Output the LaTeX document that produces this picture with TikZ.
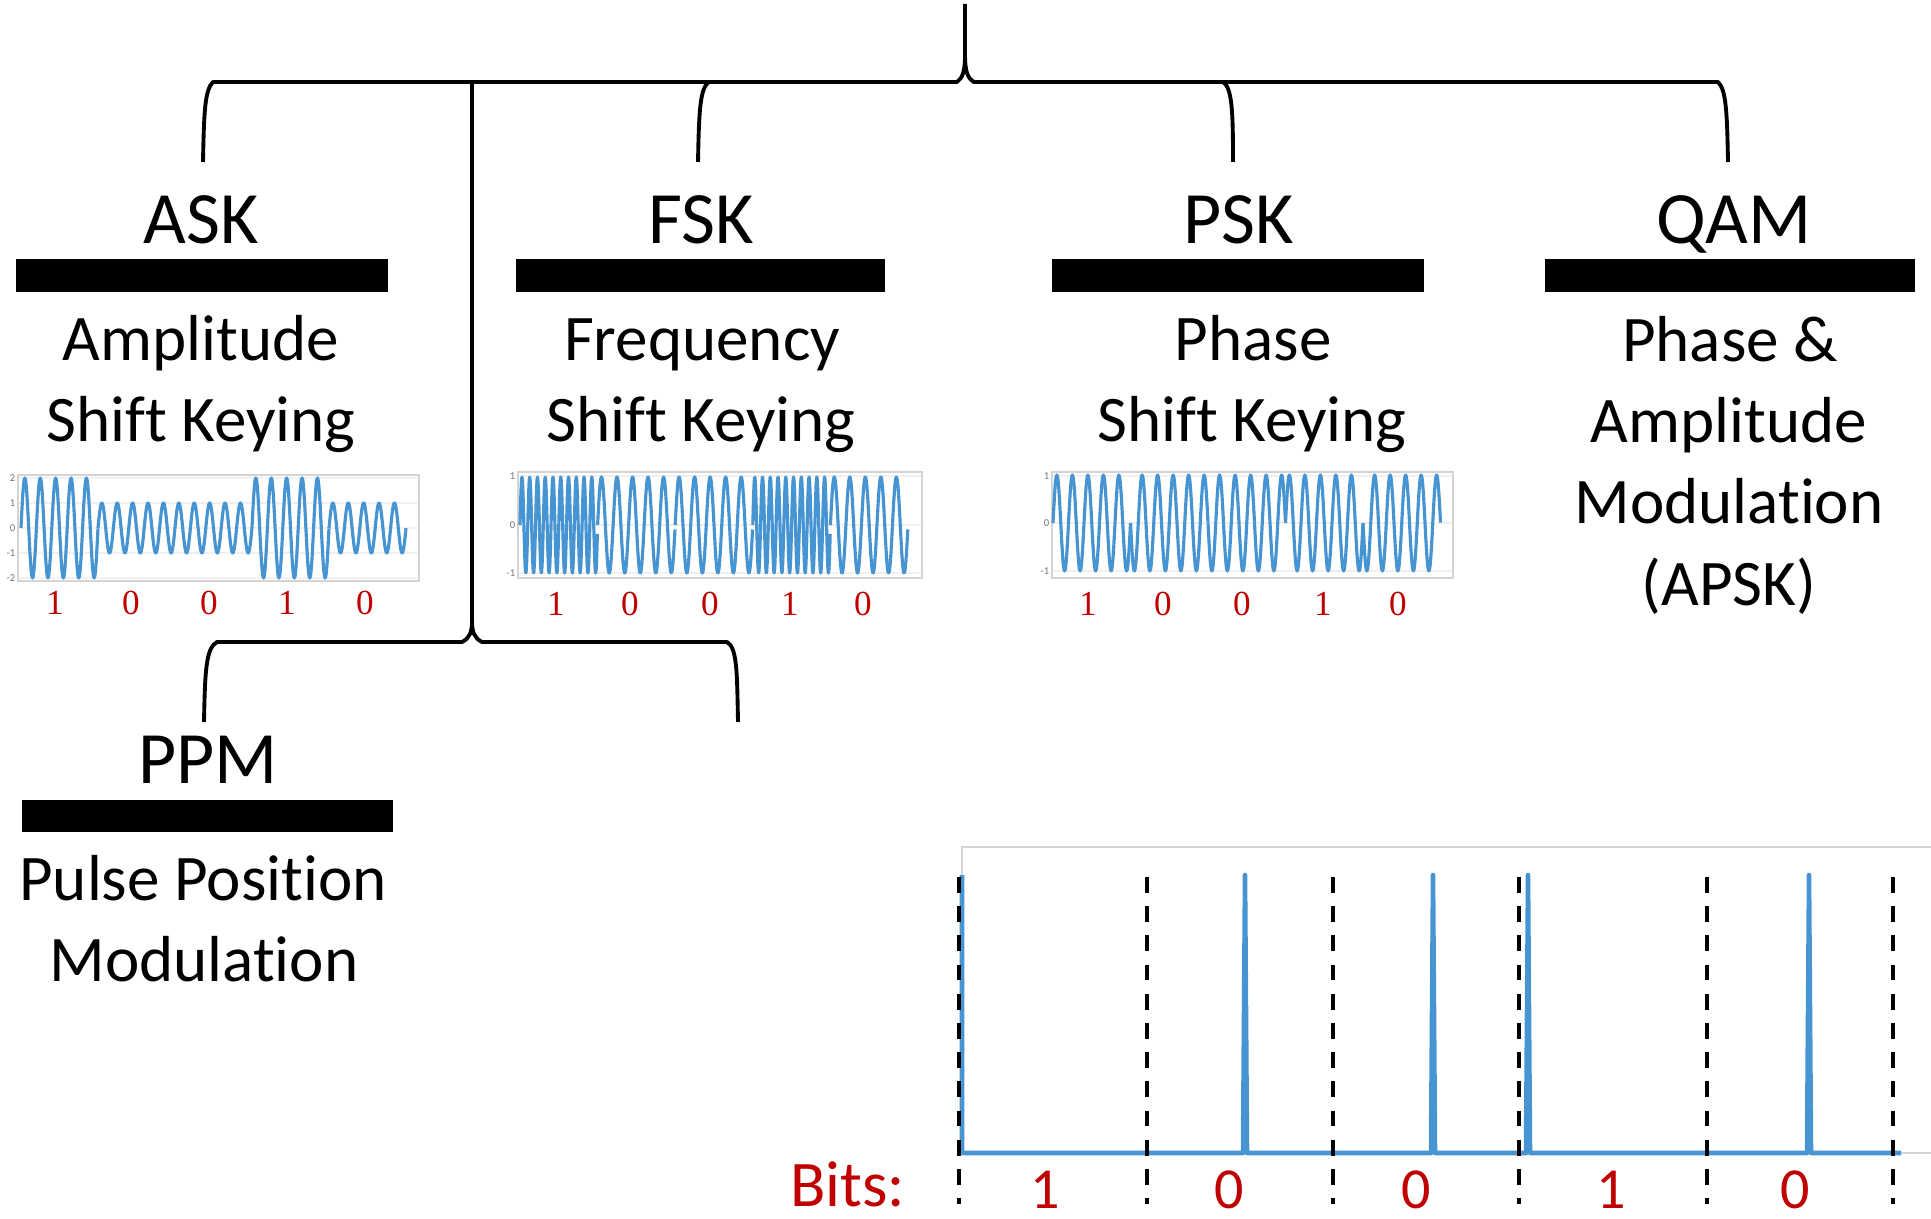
\documentclass[tikz,border=0pt]{standalone}
\usepackage{fontspec}
\setmainfont{Carlito}[Ligatures=CommonOff]
\newfontfamily\plotfont{Liberation Serif}
\definecolor{bitred}{RGB}{192,0,0}
\definecolor{wblue}{RGB}{70,148,210}
\begin{document}
\begin{tikzpicture}[x=0.01cm,y=-0.01cm,
  title/.style={font=\fontsize{21}{25}\selectfont, anchor=base, inner sep=0pt},
  body/.style={font=\fontsize{18.5}{22}\selectfont, anchor=base, inner sep=0pt},
  bar/.style={fill=black},
  brace/.style={draw=black, line width=1.1pt, line join=round},
  wave/.style={draw=wblue, line width=0.9pt, line join=round},
  pulse/.style={draw=wblue, line width=1.3pt, line join=round},
  frame/.style={draw=black!17, line width=0.5pt},
  gridl/.style={draw=black!6, line width=0.4pt},
  smallbit/.style={font=\plotfont\fontsize{10}{12}\selectfont, text=bitred, anchor=base, inner sep=0pt},
  bigbit/.style={font=\fontsize{16.5}{20}\selectfont, text=bitred, anchor=base, inner sep=0pt},
  bitslabel/.style={font=\fontsize{18.5}{22}\selectfont, text=bitred, anchor=base east, inner sep=0pt},
  tickl/.style={font=\fontsize{3}{3}\selectfont, text=black!55, anchor=east, inner sep=0.6pt},
  bitsep/.style={draw=black, line width=1.2pt, dash pattern=on 4.5pt off 3.8pt}
]
\useasboundingbox (0,0) rectangle (1931,1219);

% ---------- top brace ----------
\coordinate (tip) at (965,4);
\coordinate (bA) at (203,162);
\coordinate (bF) at (698,162);
\coordinate (bP) at (1233,162);
\coordinate (bQ) at (1728,162);
\coordinate (stemtop) at (472,82);
\coordinate (ppmtip) at (472,620);
\coordinate (bPPM) at (204,722);
\coordinate (bR) at (738,722);
\draw[brace] (bA) .. controls (204,110) and (205,90) .. (213,82) -- (957,82)
   .. controls (963,78) and (965,70) .. (965,55) -- (tip);
\draw[brace] (965,55) .. controls (965,70) and (967,78) .. (974,82) -- (1718,82)
   .. controls (1726,90) and (1727,110) .. (bQ);
\draw[brace] (709,82) .. controls (700,88) and (699,110) .. (bF);
\draw[brace] (1223,82) .. controls (1232,88) and (1233,110) .. (bP);
\draw[brace] (stemtop) -- (ppmtip);
% ---------- PPM brace ----------
\draw[brace] (bPPM) .. controls (205,670) and (206,648) .. (217,642) -- (462,642)
   .. controls (470,638) and (472,632) .. (ppmtip);
\draw[brace] (ppmtip) .. controls (472,632) and (474,638) .. (482,642) -- (727,642)
   .. controls (737,648) and (737,670) .. (bR);

% ---------- titles, bars, descriptions ----------
\node[title] (ask) at (201,244) {ASK};
\fill[bar] (16,259) rectangle (388,292);
\node[body] (ask1) at (201,361) {Amplitude};
\node[body] (ask2) at (201,442) {Shift Keying};

\node[title] (fsk) at (701,244) {FSK};
\fill[bar] (516,259) rectangle (885,292);
\node[body] (fsk1) at (702,361) {Frequency};
\node[body] (fsk2) at (701,442) {Shift Keying};

\node[title] (psk) at (1239,244) {PSK};
\fill[bar] (1052,259) rectangle (1424,292);
\node[body] (psk1) at (1253,361) {Phase};
\node[body] (psk2) at (1252,442) {Shift Keying};

\node[title] (qam) at (1734,244) {QAM};
\fill[bar] (1545,259) rectangle (1915,292);
\node[body] (qam1) at (1730,362) {Phase \&};
\node[body] (qam2) at (1729,443) {Amplitude};
\node[body] (qam3) at (1729,524) {Modulation};
\node[body] (qam4) at (1729,605) {(APSK)};

\node[title] (ppm) at (208,783) {PPM};
\fill[bar] (22,800) rectangle (393,832);
\node[body] (ppm1) at (203,900) {Pulse Position};
\node[body] (ppm2) at (204,981) {Modulation};

% ---------- ASK plot ----------
\foreach \yy in {478,503,528,553,578} \draw[gridl] (18,\yy) -- (419,\yy);
\draw[frame] (18,475) rectangle (419,581);
\foreach \yy/\lab [count=\k] in {478/2,503/1,528/0,553/-1,578/-2}
  \node[tickl] (askt\k) at (18,\yy) {\lab};
\foreach \b [count=\i from 0] in {1,0,0,1,0} {
  \pgfmathsetmacro\amp{ifthenelse(\b==1,50,25)}
  \pgfmathsetmacro\ds{\i}
  \pgfmathsetmacro\de{\i+1}
  \draw[wave] plot[domain=\ds:\de, samples=121, smooth] ({21+77*\x},{528-\amp*sin(1800*\x)});
}
\foreach \xx/\b [count=\k] in {55/1,131/0,209/0,287/1,365/0}
  \node[smallbit] (askb\k) at (\xx,614) {\b};

% ---------- FSK plot ----------
\foreach \yy in {476,525,573} \draw[gridl] (518,\yy) -- (922,\yy);
\draw[frame] (518,472) rectangle (922,578);
\foreach \yy/\lab [count=\k] in {476/1,525/0,573/-1}
  \node[tickl] (fskt\k) at (518,\yy) {\lab};
\foreach \b [count=\i from 0] in {1,0,0,1,0} {
  \pgfmathsetmacro\fr{ifthenelse(\b==1,3600,1800)}
  \pgfmathsetmacro\ds{\i}
  \pgfmathsetmacro\de{\i+1}
  \draw[wave] plot[domain=\ds:\de, samples=221, smooth] ({520+77.6*\x},{525-48*sin(\fr*\x)});
}
\foreach \xx/\b [count=\k] in {556/1,630/0,710/0,790/1,863/0}
  \node[smallbit] (fskb\k) at (\xx,615) {\b};

% ---------- PSK plot ----------
\foreach \yy in {476,523,571} \draw[gridl] (1052,\yy) -- (1453,\yy);
\draw[frame] (1052,472) rectangle (1453,578);
\foreach \yy/\lab [count=\k] in {476/1,523/0,571/-1}
  \node[tickl] (pskt\k) at (1052,\yy) {\lab};
\foreach \b [count=\i from 0] in {1,0,0,1,0} {
  \pgfmathsetmacro\sg{ifthenelse(\b==1,1,-1)}
  \pgfmathsetmacro\ds{\i}
  \pgfmathsetmacro\de{\i+1}
  \draw[wave] plot[domain=\ds:\de, samples=121, smooth] ({1053+77.5*\x},{523-48*\sg*sin(1800*\x)});
}
\foreach \xx/\b [count=\k] in {1088/1,1163/0,1242/0,1323/1,1398/0}
  \node[smallbit] (pskb\k) at (\xx,615) {\b};

% ---------- PPM plot ----------
\draw[frame, line width=0.8pt] (1931,847) -- (962,847) -- (962,1153) -- (1931,1153);
\draw[pulse] (962,875) -- (962,1153) -- (1243,1153) -- (1245,875) -- (1247,1153)
  -- (1431,1153) -- (1433,875) -- (1435,1153)
  -- (1526,1153) -- (1528,875) -- (1530,1153)
  -- (1807,1153) -- (1809,875) -- (1811,1153) -- (1901,1153);
\foreach \xx [count=\k] in {959,1147,1333,1519,1707,1893} {
  \coordinate (sepT\k) at (\xx,877);
  \coordinate (sepB\k) at (\xx,1204);
  \draw[bitsep] (sepT\k) -- (sepB\k);
}
\node[bitslabel] (bits) at (906,1206) {Bits:};
\foreach \xx/\b [count=\k] in {1045/1,1229/0,1416/0,1611/1,1795/0}
  \node[bigbit] (ppmb\k) at (\xx,1208) {\b};
\end{tikzpicture}
\end{document}
